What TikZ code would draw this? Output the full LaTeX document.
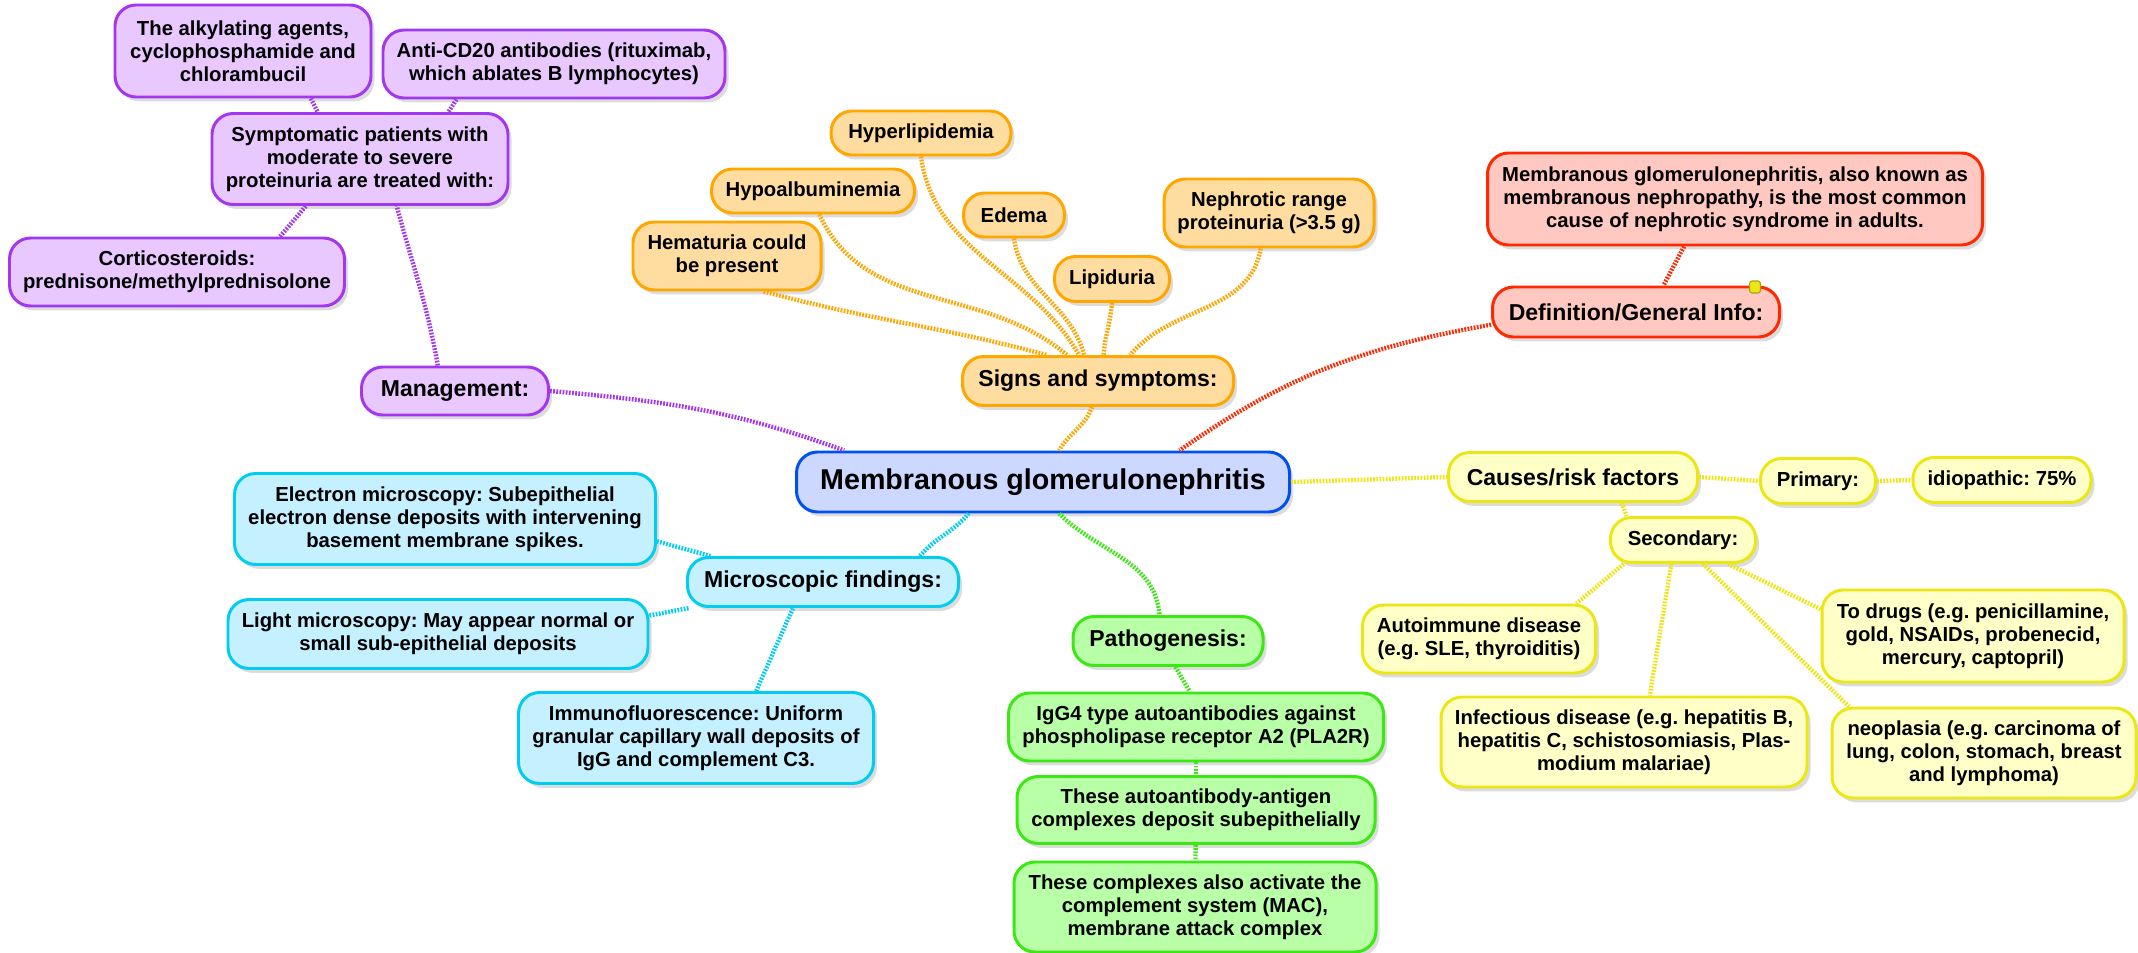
\documentclass[tikz,border=0pt]{standalone}
\usepackage{fontspec}
\setmainfont{Liberation Sans}
\usetikzlibrary{shadows}
\frenchspacing

\definecolor{purpleline}{RGB}{163,55,240}
\definecolor{purplefill}{RGB}{232,200,255}
\definecolor{orangeline}{RGB}{255,166,0}
\definecolor{orangefill}{RGB}{255,221,160}
\definecolor{redline}{RGB}{255,40,0}
\definecolor{redfill}{RGB}{255,200,192}
\definecolor{blueline}{RGB}{0,80,240}
\definecolor{bluefill}{RGB}{204,216,255}
\definecolor{cyanline}{RGB}{0,205,240}
\definecolor{cyanfill}{RGB}{196,240,255}
\definecolor{greenline}{RGB}{60,232,20}
\definecolor{greenfill}{RGB}{184,255,168}
\definecolor{yellowline}{RGB}{236,230,20}
\definecolor{yellowfill}{RGB}{255,255,200}

\newcommand\smalltxt{\fontsize{11.55}{13.1}\selectfont\bfseries}
\newcommand\midtxt{\fontsize{13.1}{15}\selectfont\bfseries}
\newcommand\titletxt{\fontsize{16.3}{19}\selectfont\bfseries}

\tikzset{
	mapbox/.style={rounded corners=12pt, line width=1.7pt, align=center, inner sep=2pt, font=\smalltxt,
		drop shadow={shadow xshift=2pt, shadow yshift=-2.5pt, opacity=0.28}},
	sz/.style 2 args={minimum width=#1*0.02cm, minimum height=#2*0.02cm},
	pbox/.style={mapbox, draw=purpleline, fill=purplefill},
	obox/.style={mapbox, draw=orangeline, fill=orangefill},
	rbox/.style={mapbox, draw=redline, fill=redfill},
	cbox/.style={mapbox, draw=cyanline, fill=cyanfill},
	gbox/.style={mapbox, draw=greenline, fill=greenfill},
	ybox/.style={mapbox, draw=yellowline, fill=yellowfill},
	tbox/.style={mapbox, draw=blueline, fill=bluefill, font=\titletxt},
	lnk/.style={draw=#1, line width=2.5pt, dash pattern=on 1pt off 0.8pt},
}

\begin{document}
\begin{tikzpicture}[x=0.02cm, y=-0.02cm]
		%%%%% START %%%%%
		\useasboundingbox (0,0) rectangle (2138,953);
		
		\node[tbox, sz={493}{60}] (mg) at (1043,482) {Membranous glomerulonephritis};
		
		\node[pbox, sz={256}{92}] (alkyl) at (243,51) {The alkylating agents,\\cyclophosphamide and\\chlorambucil};
		\node[pbox, sz={342}{68}] (cd20) at (554,64) {Anti-CD20 antibodies (rituximab,\\which ablates B lymphocytes)};
		\node[pbox, sz={296}{91}] (treat) at (360,159) {Symptomatic patients with\\moderate to severe\\proteinuria are treated with:};
		\node[pbox, sz={335}{68}] (cortico) at (177,272) {Corticosteroids:\\prednisone/methylprednisolone};
		\node[pbox, sz={187}{48}, font=\midtxt] (mgmt) at (455,391) {Management:};
		
		\node[obox, sz={180}{44}] (hyperl) at (921,133) {Hyperlipidemia};
		\node[obox, sz={203}{44}] (hypoalb) at (813,191) {Hypoalbuminemia};
		\node[obox, sz={101}{44}] (edema) at (1014,215) {Edema};
		\node[obox, sz={188}{68}] (hemat) at (727,256) {Hematuria could\\be present};
		\node[obox, sz={115}{45}] (lipid) at (1112,279) {Lipiduria};
		\node[obox, sz={210}{68}] (nephr) at (1269,213) {Nephrotic range\\proteinuria (>3.5 g)};
		\node[obox, sz={271}{49}, font=\midtxt] (signs) at (1098,381) {Signs and symptoms:};
		
		\node[rbox, sz={495}{92}] (deftext) at (1735,199) {Membranous glomerulonephritis, also known as\\membranous nephropathy, is the most common\\cause of nephrotic syndrome in adults.};
		\node[rbox, sz={287}{50}, font=\midtxt] (definfo) at (1636,312) {Definition/General Info:};
		\node[draw=yellowline!70!black, fill=yellowline, line width=0.6pt, rounded corners=1.5pt, minimum width=0.22cm, minimum height=0.24cm, inner sep=0pt] (flag) at (1755,287) {};
		
		\node[ybox, sz={249}{49}, font=\midtxt] (causes) at (1573,477) {Causes/risk factors};
		\node[ybox, sz={115}{45}] (prim) at (1818,481) {Primary:};
		\node[ybox, sz={178}{45}] (idio) at (2002,480) {idiopathic: 75\%};
		\node[ybox, sz={145}{45}] (second) at (1683,540) {Secondary:};
		\node[ybox, sz={233}{68}] (autoim) at (1479,639) {Autoimmune disease\\(e.g. SLE, thyroiditis)};
		\node[ybox, sz={366}{90}] (infect) at (1624,742) {Infectious disease (e.g. hepatitis B,\\hepatitis C, schistosomiasis, Plas-\\modium malariae)};
		\node[ybox, sz={302}{92}] (drugs) at (1973,636) {To drugs (e.g. penicillamine,\\gold, NSAIDs, probenecid,\\mercury, captopril)};
		\node[ybox, sz={304}{90}] (neopl) at (1984,753) {neoplasia (e.g. carcinoma of\\lung, colon, stomach, breast\\and lymphoma)};
		
		\node[cbox, sz={421}{91}] (electron) at (445,519) {Electron microscopy: Subepithelial\\electron dense deposits with intervening\\basement membrane spikes.};
		\node[cbox, sz={271}{49}, font=\midtxt] (micro) at (823,582) {Microscopic findings:};
		\node[cbox, sz={420}{69}] (light) at (438,634) {Light microscopy: May appear normal or\\small sub-epithelial deposits};
		\node[cbox, sz={355}{91}] (immuno) at (696,738) {Immunofluorescence: Uniform\\granular capillary wall deposits of\\IgG and complement C3.};
		
		\node[gbox, sz={190}{49}, font=\midtxt] (patho) at (1168,641) {Pathogenesis:};
		\node[gbox, sz={375}{68}] (igg) at (1196,727) {IgG4 type autoantibodies against\\phospholipase receptor A2 (PLA2R)};
		\node[gbox, sz={358}{67}] (deposit) at (1196,810) {These autoantibody-antigen\\complexes deposit subepithelially};
		\node[gbox, sz={362}{90}] (mac) at (1195,907) {These complexes also activate the\\complement system (MAC),\\membrane attack complex};
		
		% links
		\draw[lnk=purpleline] (alkyl.-35) -- (treat.132);
		\draw[lnk=purpleline] (cd20.200) -- (treat.28);
		\draw[lnk=purpleline] (cortico.19) -- (treat.221);
		\draw[lnk=purpleline] (mgmt.124) to[out=100, in=-75] (treat.-52);
		\draw[lnk=purpleline] (mgmt.east) to[out=-5, in=160] (mg.171);
		
		\draw[lnk=orangeline] (hemat.-44) to[out=-15, in=165] (signs.153);
		\draw[lnk=orangeline] (hypoalb.-75) to[out=-65, in=140] (signs.140);
		\draw[lnk=orangeline] (hyperl.south) to[out=-82, in=120] (signs.126);
		\draw[lnk=orangeline] (edema.south) to[out=-82, in=105] (signs.118);
		\draw[lnk=orangeline] (lipid.south) to[out=-95, in=85] (signs.78);
		\draw[lnk=orangeline] (nephr.-103) to[out=-100, in=50] (signs.39);
		\draw[lnk=orangeline] (signs.-103) to[out=-110, in=60] (mg.63);
		
		\draw[lnk=redline] (deftext.223) -- (definfo.44);
		\draw[lnk=redline] (definfo.185) to[out=190, in=35] (mg.13);
		
		\draw[lnk=yellowline] (mg.east) -- (causes.west);
		\draw[lnk=yellowline] (causes.east) -- (prim.west);
		\draw[lnk=yellowline] (prim.east) -- (idio.west);
		\draw[lnk=yellowline] (causes.-28) -- (second.157);
		\draw[lnk=yellowline] (second.202) -- (autoim.20);
		\draw[lnk=yellowline] (second.244) -- (infect.61);
		\draw[lnk=yellowline] (second.-50) -- (neopl.161);
		\draw[lnk=yellowline] (second.-28) -- (drugs.170);
		
		\draw[lnk=cyanline] (micro.15) to[out=50, in=-130] (mg.203);
		\draw[lnk=cyanline] (electron.-6) -- (micro.167);
		\draw[lnk=cyanline] (light.5) -- (micro.191);
		\draw[lnk=cyanline] (immuno.38) -- (micro.221);
		
		\draw[lnk=greenline] (mg.-63) to[out=-45, in=95] (patho.108);
		\draw[lnk=greenline] (patho.-74) -- (igg.100);
		\draw[lnk=greenline] (igg) -- (deposit);
		\draw[lnk=greenline] (deposit) -- (mac);
		
		%%%%% END %%%%%
	\end{tikzpicture}
\end{document}
